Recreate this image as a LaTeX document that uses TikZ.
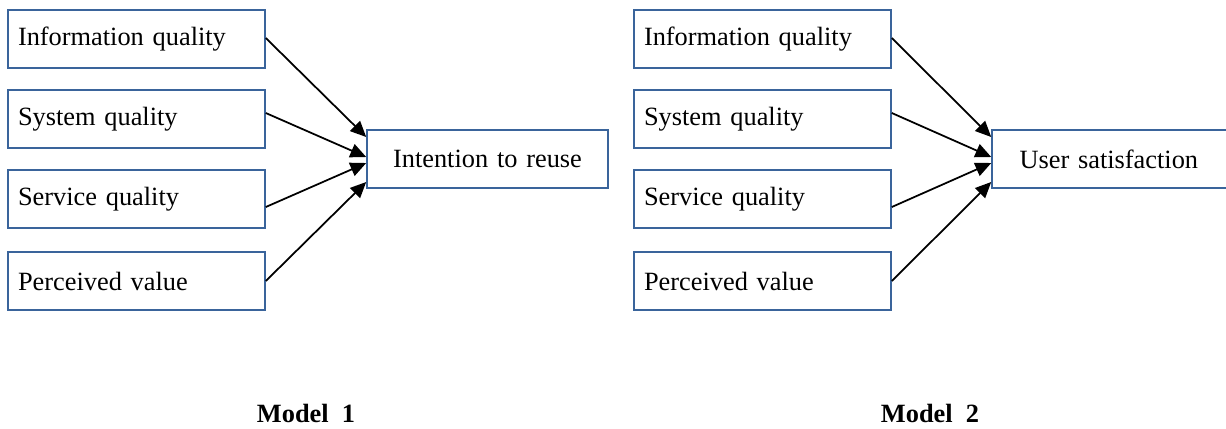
\documentclass[tikz,border=0pt]{standalone}
\usepackage{fontspec}
\setmainfont{Liberation Serif}
\usepackage{xcolor}
\usetikzlibrary{arrows.meta, positioning, calc}

\definecolor{boxblue}{RGB}{58,100,155}

\tikzset{
  factor/.style={draw=boxblue, line width=0.9pt, rectangle, minimum width=5.14cm,
    minimum height=1.16cm, text width=4.74cm, inner xsep=0.2cm, align=left,
    font=\fontsize{15}{17}\selectfont},
  outcome/.style={factor, minimum width=4.82cm, text width=4.42cm, align=center},
  link/.style={line width=1pt, -{Triangle[length=9pt,width=8pt]}},
  caption/.style={font=\fontsize{15}{17}\selectfont\bfseries}
}

\begin{document}
\begin{tikzpicture}
\useasboundingbox (0,0) rectangle (24.52,-8.56);
\begin{scope}
\clip (0,0) rectangle (24.52,-8.56);
% Model 1
\node[factor] (infoA) at (2.73,-0.78) {Information quality};
\node[factor] (sysA) at (2.73,-2.38) {System quality};
\node[factor] (servA) at (2.73,-3.98) {Service quality};
\node[factor] (valueA) at (2.73,-5.62) {Perceived value};
\node[outcome] (reuse) at (9.75,-3.18) {Intention to reuse};
% Model 2
\node[factor] (infoB) at (15.25,-0.78) {Information quality};
\node[factor] (sysB) at (15.25,-2.38) {System quality};
\node[factor] (servB) at (15.25,-3.98) {Service quality};
\node[factor] (valueB) at (15.25,-5.62) {Perceived value};
\node[outcome, minimum width=5.2cm, text width=4.8cm, align=left] (satis) at (22.44,-3.18) {\hspace{0.35cm}User satisfaction};
\end{scope}
% arrows
\draw[link] ([yshift=0.02cm]infoA.east) -- ([yshift=0.44cm]reuse.west);
\draw[link] ([yshift=0.12cm]sysA.east) -- ([yshift=0.04cm]reuse.west);
\draw[link] ([yshift=-0.16cm]servA.east) -- ([yshift=-0.08cm]reuse.west);
\draw[link] (valueA.east) -- ([yshift=-0.46cm]reuse.west);
\draw[link] ([yshift=0.02cm]infoB.east) -- ([yshift=0.44cm]satis.west);
\draw[link] ([yshift=0.12cm]sysB.east) -- ([yshift=0.04cm]satis.west);
\draw[link] ([yshift=-0.16cm]servB.east) -- ([yshift=-0.08cm]satis.west);
\draw[link] (valueB.east) -- ([yshift=-0.46cm]satis.west);
% captions
\node[caption] (capA) at (6.12,-8.26) {Model\enspace 1};
\node[caption] (capB) at (18.6,-8.26) {Model\enspace 2};
\end{tikzpicture}
\end{document}
